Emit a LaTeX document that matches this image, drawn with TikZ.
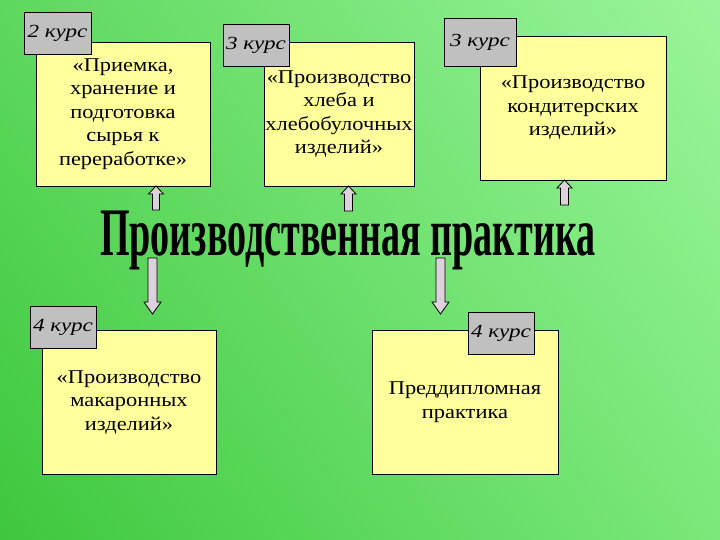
\documentclass[tikz,border=0pt]{standalone}
\usepackage{fontspec}
\setmainfont{Liberation Serif}
\newfontfamily\boxfont{Liberation Serif}[FakeStretch=1.15]
\newfontfamily\tagfont{Liberation Serif}[FakeStretch=1.25]
\usetikzlibrary{calc,shadings}
\definecolor{boxyellow}{HTML}{FFFF9C}
\definecolor{taggray}{HTML}{C0C0C0}
\definecolor{arrowfill}{HTML}{DCD2DC}
\definecolor{bgul}{RGB}{94,216,94}
\definecolor{bgur}{RGB}{154,245,154}
\definecolor{bgll}{RGB}{62,200,62}
\definecolor{bglr}{RGB}{122,232,122}
\tikzset{
  ybox/.style={draw=black, line width=0.8pt, fill=boxyellow, align=center,
    font=\boxfont\fontsize{19.5}{23.5}\selectfont, inner sep=0pt},
  tagbox/.style={draw=black, line width=0.8pt, fill=taggray, inner sep=0pt,
    font=\tagfont\fontsize{18.5}{20}\selectfont\itshape, minimum height=42pt},
  blockarrow/.style={draw=black, line width=0.8pt, fill=arrowfill}
}
% x, y tail, y head base, y tip, shaft half width, head half width
\newcommand\vblock[6]{%
  \draw[blockarrow] ({#1-#5},#2) -- ({#1+#5},#2) -- ({#1+#5},#3) -- ({#1+#6},#3)
    -- (#1,#4) -- ({#1-#6},#3) -- ({#1-#5},#3) -- cycle;}
\begin{document}
\begin{tikzpicture}[x=1pt,y=-1pt]
\useasboundingbox (0,0) rectangle (720,540);
\shade[upper left=bgul, upper right=bgur, lower left=bgll, lower right=bglr]
  (0,0) rectangle (720,540);

% yellow boxes
\node[ybox, minimum width=174pt, minimum height=144pt] (b1) at (123,114)
  {«Приемка,\\хранение и\\подготовка\\сырья к\\переработке»};
\node[ybox, minimum width=150pt, minimum height=144pt] (b2) at (339,114)
  {«Производство\\хлеба и\\хлебобулочных\\изделий»};
\node[ybox, minimum width=186pt, minimum height=144pt] (b3) at (573,108)
  {«Производство\\кондитерских\\изделий»};
\node[ybox, minimum width=174pt, minimum height=144pt] (b4) at (129,402)
  {«Производство\\макаронных\\изделий»};
\node[ybox, minimum width=186pt, minimum height=144pt] (b5) at (465,402)
  {Преддипломная\\практика};

% tags
\node[tagbox, minimum width=67pt] (t1) at (57.5,33) {2 курс};
\node[tagbox, minimum width=66pt] (t2) at (256,45) {3 курс};
\node[tagbox, minimum width=72pt, minimum height=48pt] (t3) at (480,42) {3 курс};
\node[tagbox, minimum width=66pt] (t4) at (63,327) {4 курс};
\node[tagbox, minimum width=66pt] (t5) at (501,333) {4 курс};

% title
\node[anchor=base, inner sep=0pt] (title) at (348,255)
  {\scalebox{0.56}[1]{\fontsize{68}{68}\selectfont\bfseries Производственная практика}};

% block arrows
\vblock{156}{210}{194}{186}{3.5}{7.5}
\vblock{348.5}{211}{194}{186}{4}{7.5}
\vblock{564.5}{205}{188}{180}{4}{7.5}
\vblock{152.5}{258}{302}{314}{4.5}{8.5}
\vblock{440.5}{258}{302}{314}{4.5}{8.5}
\end{tikzpicture}
\end{document}
